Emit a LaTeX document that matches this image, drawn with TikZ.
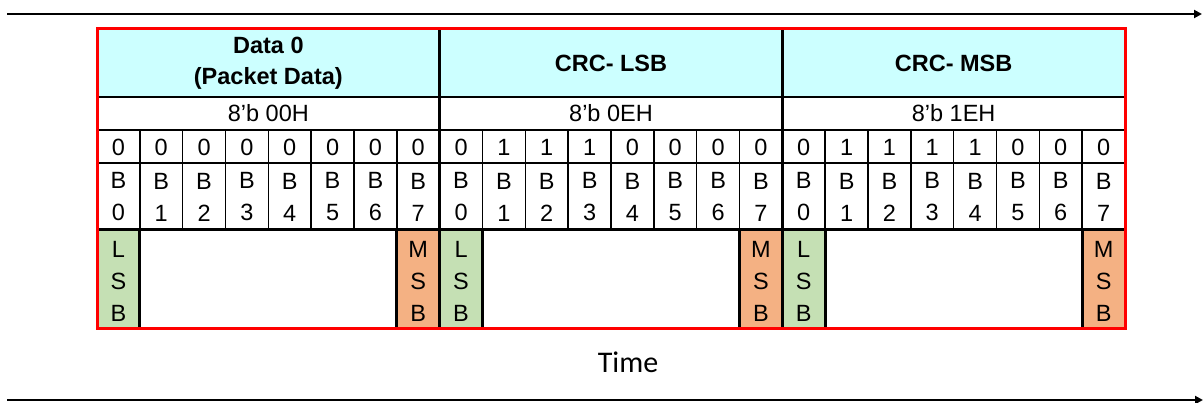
\documentclass[tikz,border=0pt]{standalone}
\usepackage{fontspec}
\setmainfont{Liberation Sans}
\newfontfamily\timefont{Carlito}
\usetikzlibrary{arrows.meta}
\definecolor{hdrcyan}{HTML}{CCFFFF}
\definecolor{lsbgreen}{HTML}{C5E0B4}
\definecolor{msborange}{HTML}{F4B183}
\definecolor{redframe}{HTML}{FF0000}
\tikzset{
  celltext/.style={inner sep=0pt, align=center, font=\fontsize{23.5}{32}\selectfont},
  hdrtext/.style={inner sep=0pt, align=center, font=\fontsize{23.5}{31}\selectfont\bfseries},
  thinline/.style={line width=1.6pt, black},
  thickline/.style={line width=3pt, black},
  timearrow/.style={line width=2pt, black, -{Triangle[length=8pt,width=8pt]}},
}
\begin{document}
\begin{tikzpicture}[x=1pt,y=-1pt]
\useasboundingbox (0,0) rectangle (1203,403);
\def\cw{42.8333}
\def\xo{97}
% fills
\fill[hdrcyan] (97,29) rectangle (1125,97);
\foreach \c in {0,8,16}{\fill[lsbgreen] ({\xo+\c*\cw},230) rectangle ({\xo+(\c+1)*\cw},329);}
\foreach \c in {7,15,23}{\fill[msborange] ({\xo+\c*\cw},230) rectangle ({\xo+(\c+1)*\cw},329);}
% horizontal lines
\foreach \yy in {97,130,163}{\draw[thinline] (97,\yy) -- (1125,\yy);}
\draw[thickline] (97,230) -- (1125,230);
% vertical thin lines in bit rows
\foreach \c in {1,...,23}{\draw[thinline] ({\xo+\c*\cw},130) -- ({\xo+\c*\cw},230);}
% vertical thick lines in LSB/MSB row
\foreach \c in {1,7,9,15,17,23}{\draw[thickline] ({\xo+\c*\cw},230) -- ({\xo+\c*\cw},329);}
% section dividers
\foreach \c in {8,16}{\draw[thickline] ({\xo+\c*\cw},29) -- ({\xo+\c*\cw},329);}
% red frame
\draw[line width=3pt, redframe] (97,29) rectangle (1125,329);
% header texts
\node[hdrtext] (h0) at ({\xo+4*\cw},63) {Data 0\\(Packet Data)};
\node[hdrtext] (h1) at ({\xo+12*\cw},63) {CRC- LSB};
\node[hdrtext] (h2) at ({\xo+20*\cw},63) {CRC- MSB};
\node[celltext] (v0) at ({\xo+4*\cw},113.5) {8’b 00H};
\node[celltext] (v1) at ({\xo+12*\cw},113.5) {8’b 0EH};
\node[celltext] (v2) at ({\xo+20*\cw},113.5) {8’b 1EH};
% bit values
\foreach \v [count=\i from 0] in {0,0,0,0,0,0,0,0, 0,1,1,1,0,0,0,0, 0,1,1,1,1,0,0,0}{
  \node[celltext] (bit\i) at ({\xo+(\i+0.5)*\cw},147) {\v};
}
% bit names
\foreach \i in {0,...,23}{
  \pgfmathtruncatemacro{\k}{mod(\i,8)}
  \node[celltext] (bn\i) at ({\xo+(\i+0.5)*\cw},197) {B\\\k};
}
% LSB / MSB
\foreach \c in {0,8,16}{\node[celltext] (lsb\c) at ({\xo+(\c+0.5)*\cw},281) {L\\S\\B};}
\foreach \c in {7,15,23}{\node[celltext] (msb\c) at ({\xo+(\c+0.5)*\cw},281) {M\\S\\B};}
% time arrows
\coordinate (t1s) at (7,14);
\coordinate (t1e) at (1202,14);
\coordinate (t2s) at (7,400);
\coordinate (t2e) at (1203,400);
\draw[timearrow] (t1s) -- (t1e);
\draw[timearrow] (t2s) -- (t2e);
\node[inner sep=0pt, font=\fontsize{30}{32}\timefont] (time) at (628,362) {Time};
\end{tikzpicture}
\end{document}
